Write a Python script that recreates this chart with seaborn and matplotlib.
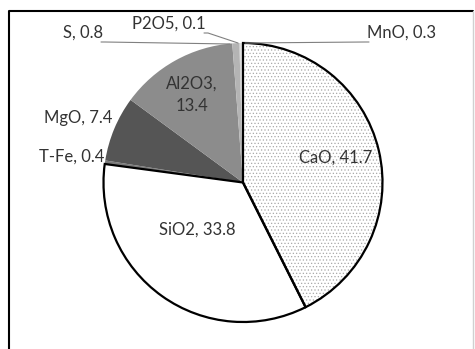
import matplotlib
matplotlib.use("Agg")
import matplotlib.pyplot as plt
from matplotlib.patches import Wedge
import seaborn as sns

sns.set_theme(style="white")
plt.rcParams["font.family"] = ["Lato", "DejaVu Sans"]
plt.rcParams["hatch.linewidth"] = 0.5

# data, clockwise from 12 o'clock
components = ["CaO", "SiO2", "T-Fe", "MgO", "Al2O3", "S", "P2O5", "MnO"]
values = [41.7, 33.8, 0.4, 7.4, 13.4, 0.8, 0.1, 0.3]
colors = ["white", "white", "#7a7a7a", "#555555", "#8c8c8c",
          "#b4b4b4", "#c8c8c8", "#dcdcdc"]

W, H = 475, 349


def py(y):
    # pixel row -> data y
    return H - y


fig = plt.figure(figsize=(W / 100, H / 100), dpi=100)
ax = fig.add_axes([0, 0, 1, 1])

wedges, _ = ax.pie(values, colors=colors, startangle=90, counterclock=False,
                   center=(243, py(182.5)), radius=139.5,
                   wedgeprops=dict(linewidth=0))

# dotted fill for CaO
wedges[0].set_hatch(".....")
wedges[0].set_edgecolor("#a8a8a8")

# black outline on CaO and SiO2
for w in wedges[:2]:
    ax.add_patch(Wedge(w.center, w.r, w.theta1, w.theta2, facecolor="none",
                       edgecolor="black", linewidth=1.6, zorder=3))

# labels (text x, text y, alignment, leader line end or None)
label_pos = {
    "CaO": (336, 158, "center", None),
    "SiO2": (197, 230, "center", None),
    "T-Fe": (104, 157, "right", None),
    "MgO": (78, 118, "center", None),
    "Al2O3": (192, 95, "center", None),
    "S": (103, 33, "right", (230, 44)),
    "P2O5": (206, 24, "right", (238, 43)),
    "MnO": (367, 33, "left", (245, 43)),
}

for name, val in zip(components, values):
    x, y, ha, tip = label_pos[name]
    txt = f"{name},\n{val}" if name == "Al2O3" else f"{name}, {val}"
    ax.text(x, py(y), txt, ha=ha, va="center", fontsize=12,
            color="#333333", linespacing=1.45, zorder=5)
    if tip is not None:
        if ha == "right":
            xs = [x - 2, x + 2, tip[0]]
            ys = [py(y + 9), py(y + 9), py(tip[1])]
        else:
            xs = [x + 2, x - 2, tip[0]]
            ys = [py(y + 9), py(y + 9), py(tip[1])]
        ax.plot(xs, ys, color="#808080", linewidth=0.8, zorder=4)

# frame around the chart area
ax.plot([9, 9, 473], [py(349 + 5), py(11), py(11)], color="black",
        linewidth=1.5, clip_on=False, zorder=6)
ax.plot([473, 473], [py(11), py(349 + 5)], color="#d0d0d0",
        linewidth=1.0, clip_on=False, zorder=6)

ax.set_xlim(0, W)
ax.set_ylim(0, H)
ax.set_aspect("equal")
ax.axis("off")

fig.savefig("out.png", dpi=100)
